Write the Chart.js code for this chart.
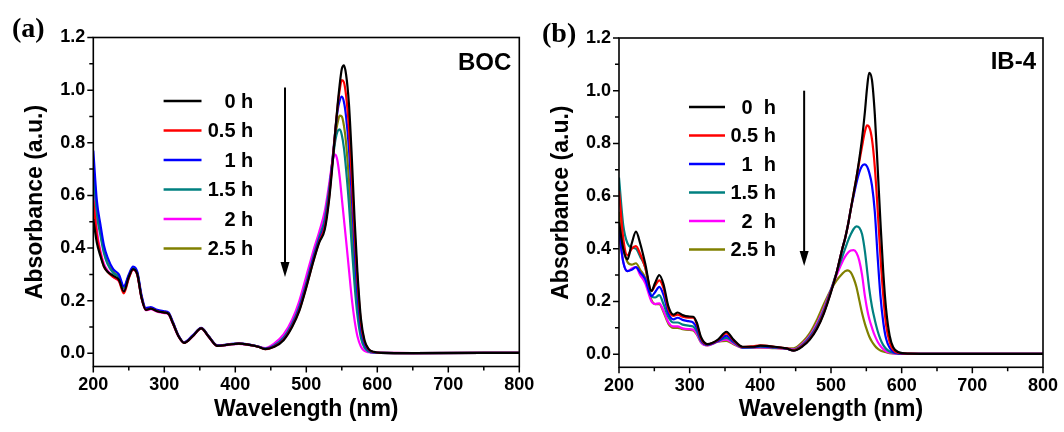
<!DOCTYPE html>
<html><head><meta charset="utf-8">
<script src="https://cdn.jsdelivr.net/npm/chart.js@4.4.0/dist/chart.umd.min.js"></script>
<style>
html,body{margin:0;padding:0;background:#fff;}
#wrap{position:relative;width:1064px;height:432px;overflow:hidden;background:#fff;}
#ca{position:absolute;left:0;top:0;}
#cb{position:absolute;left:532px;top:0;}
</style></head><body>
<div id="wrap"><canvas id="ca" width="570" height="432"></canvas><canvas id="cb" width="532" height="432"></canvas></div>
<script>
// ---------- DATA ----------
const X_TICKS = [200, 300, 400, 500, 600, 700, 800];
const X_MINOR = [250, 350, 450, 550, 650, 750];
const Y_TICKS = [0.0, 0.2, 0.4, 0.6, 0.8, 1.0, 1.2];
const Y_MINOR = [0.1, 0.3, 0.5, 0.7, 0.9, 1.1];

const LABELS_A = ['0 h', '0.5 h', '1 h', '1.5 h', '2 h', '2.5 h'];
const LABELS_B = ['0  h', '0.5 h', '1  h', '1.5 h', '2  h', '2.5 h'];

// Panel (a) BOC – wavelength (nm)
const WL_A = [200,205,210,215,220,228,236,243,250,256,
  262,268,274,281,290,300,306,312,320,328,
  340,352,362,375,390,405,420,432,442,455,
  468,480,490,500,510,518,526,532,537,541,
  544,547,550,553,556,560,564,568,572,577,
  582,588,595,605,650,800];
const A_0H = [0.51,0.42,0.37,0.33,0.31,0.295,0.28,0.235,0.29,0.32,
  0.30,0.21,0.165,0.17,0.16,0.155,0.15,0.115,0.065,0.04,
  0.065,0.095,0.065,0.028,0.033,0.037,0.032,0.025,0.016,0.025,
  0.05,0.10,0.16,0.25,0.35,0.42,0.47,0.58,0.72,0.85,
  0.94,1.02,1.08,1.094,1.06,0.95,0.75,0.51,0.31,0.13,
  0.05,0.016,0.006,0.002,0.001,0.002];
const A_05H = [0.58,0.45,0.38,0.33,0.31,0.29,0.275,0.228,0.285,0.318,
  0.298,0.21,0.165,0.17,0.16,0.155,0.15,0.115,0.065,0.04,
  0.065,0.095,0.065,0.028,0.033,0.037,0.032,0.025,0.016,0.026,
  0.052,0.103,0.163,0.253,0.352,0.423,0.48,0.59,0.73,0.85,
  0.935,1.0,1.038,1.03,0.98,0.86,0.67,0.46,0.28,0.115,
  0.045,0.014,0.005,0.002,0.001,0.002];
const A_1H = [0.77,0.58,0.49,0.41,0.365,0.32,0.30,0.255,0.30,0.33,
  0.31,0.22,0.172,0.176,0.165,0.16,0.155,0.12,0.068,0.042,
  0.068,0.097,0.067,0.03,0.034,0.038,0.033,0.026,0.017,0.028,
  0.055,0.107,0.17,0.26,0.36,0.43,0.49,0.60,0.74,0.85,
  0.92,0.96,0.975,0.955,0.90,0.78,0.60,0.40,0.23,0.095,
  0.036,0.012,0.004,0.002,0.001,0.002];
const A_15H = [0.70,0.53,0.45,0.38,0.34,0.305,0.29,0.25,0.295,0.325,
  0.305,0.215,0.168,0.172,0.162,0.157,0.152,0.117,0.066,0.041,
  0.066,0.096,0.066,0.029,0.033,0.037,0.032,0.026,0.018,0.031,
  0.06,0.113,0.178,0.268,0.368,0.44,0.51,0.62,0.73,0.81,
  0.843,0.851,0.83,0.78,0.70,0.57,0.41,0.26,0.145,0.058,
  0.021,0.007,0.003,0.002,0.001,0.002];
const A_2H = [0.66,0.47,0.39,0.34,0.315,0.29,0.275,0.238,0.288,0.318,
  0.298,0.21,0.164,0.168,0.158,0.153,0.148,0.113,0.064,0.04,
  0.064,0.094,0.064,0.028,0.032,0.036,0.031,0.026,0.02,0.038,
  0.072,0.128,0.198,0.293,0.39,0.46,0.54,0.64,0.73,0.755,
  0.73,0.67,0.59,0.51,0.43,0.32,0.21,0.125,0.065,0.025,
  0.009,0.004,0.002,0.002,0.001,0.002];
const A_25H = [0.72,0.55,0.46,0.39,0.345,0.31,0.29,0.248,0.293,0.323,
  0.303,0.213,0.167,0.171,0.161,0.156,0.151,0.116,0.066,0.041,
  0.066,0.096,0.066,0.029,0.033,0.037,0.032,0.026,0.018,0.03,
  0.058,0.11,0.175,0.265,0.365,0.437,0.505,0.615,0.74,0.83,
  0.875,0.903,0.9,0.865,0.80,0.66,0.48,0.31,0.175,0.072,
  0.026,0.008,0.003,0.002,0.001,0.002];

// Panel (b) IB-4 – wavelength (nm)
const WL_B = [200,206,212,218,224,230,237,246,251,257,
  263,270,277,283,290,298,305,310,316,325,
  340,352,362,375,390,400,420,437,447,460,
  470,480,490,500,508,516,520,524,528,532,
  536,540,544,548,551,554,558,562,566,570,
  574,578,583,588,595,610,650,800];
const B_0H = [0.50,0.40,0.36,0.42,0.465,0.42,0.345,0.24,0.27,0.30,
  0.265,0.18,0.15,0.158,0.148,0.143,0.142,0.12,0.065,0.038,
  0.055,0.085,0.055,0.028,0.028,0.032,0.028,0.022,0.013,0.03,
  0.055,0.095,0.155,0.235,0.31,0.40,0.44,0.49,0.55,0.61,
  0.67,0.74,0.82,0.92,1.01,1.068,1.04,0.91,0.71,0.50,
  0.31,0.17,0.07,0.026,0.008,0.002,0.001,0.001];
const B_05H = [0.62,0.44,0.375,0.40,0.41,0.38,0.33,0.24,0.26,0.28,
  0.25,0.17,0.145,0.15,0.142,0.138,0.138,0.115,0.06,0.037,
  0.053,0.08,0.052,0.027,0.03,0.033,0.028,0.022,0.014,0.032,
  0.058,0.098,0.158,0.238,0.31,0.40,0.44,0.49,0.55,0.61,
  0.67,0.73,0.79,0.845,0.868,0.862,0.815,0.71,0.55,0.37,
  0.22,0.11,0.045,0.016,0.005,0.002,0.001,0.001];
const B_1H = [0.47,0.35,0.315,0.32,0.33,0.31,0.285,0.22,0.235,0.255,
  0.225,0.155,0.132,0.138,0.13,0.125,0.12,0.10,0.055,0.036,
  0.05,0.07,0.048,0.026,0.027,0.03,0.026,0.021,0.014,0.033,
  0.06,0.10,0.16,0.24,0.31,0.40,0.44,0.49,0.55,0.60,
  0.65,0.69,0.715,0.72,0.712,0.69,0.64,0.54,0.37,0.22,
  0.12,0.058,0.024,0.009,0.003,0.001,0.001,0.001];
const B_15H = [0.67,0.49,0.42,0.405,0.40,0.37,0.33,0.22,0.215,0.224,
  0.19,0.14,0.12,0.12,0.112,0.108,0.105,0.088,0.05,0.035,
  0.05,0.062,0.045,0.025,0.026,0.028,0.025,0.021,0.016,0.036,
  0.065,0.108,0.168,0.245,0.31,0.37,0.40,0.43,0.455,0.475,
  0.485,0.48,0.455,0.39,0.32,0.25,0.18,0.13,0.088,0.056,
  0.034,0.02,0.01,0.005,0.002,0.001,0.001,0.001];
const B_2H = [0.46,0.35,0.315,0.325,0.33,0.30,0.27,0.20,0.19,0.193,
  0.165,0.12,0.105,0.105,0.098,0.095,0.093,0.078,0.045,0.033,
  0.048,0.055,0.04,0.024,0.025,0.026,0.024,0.021,0.018,0.04,
  0.07,0.115,0.175,0.245,0.30,0.35,0.37,0.385,0.393,0.395,
  0.385,0.355,0.30,0.22,0.172,0.135,0.10,0.07,0.047,0.031,
  0.019,0.011,0.006,0.003,0.002,0.001,0.001,0.001];
const B_25H = [0.54,0.40,0.35,0.34,0.345,0.32,0.29,0.205,0.19,0.19,
  0.16,0.115,0.10,0.10,0.095,0.092,0.09,0.075,0.045,0.033,
  0.047,0.05,0.038,0.024,0.024,0.025,0.023,0.022,0.022,0.047,
  0.08,0.13,0.19,0.245,0.28,0.305,0.315,0.318,0.31,0.288,
  0.255,0.205,0.155,0.115,0.09,0.068,0.047,0.032,0.021,0.014,
  0.01,0.007,0.004,0.003,0.002,0.001,0.001,0.001];

// ---------- STYLE ----------
const FONT = "'Liberation Sans', Arial, sans-serif";
const SERIF = "'Liberation Serif', 'Times New Roman', serif";
const COLORS = ['#000000', '#ff0000', '#0000ff', '#008080', '#ff00ff', '#808000'];
Chart.defaults.font.family = FONT;
Chart.defaults.color = '#000';

function makePanel(id, wl, series, labels, g) {
  const datasets = series.map((vals, i) => ({
    label: labels[i],
    data: wl.map((x, k) => ({ x: x, y: vals[k] })),
    borderColor: COLORS[i], backgroundColor: COLORS[i],
    borderWidth: 2.2, pointRadius: 0, fill: false,
    cubicInterpolationMode: 'monotone'
  }));

  const overlay = {
    id: 'overlay',
    afterDraw(chart) {
      const ctx = chart.ctx, a = chart.chartArea;
      const xs = chart.scales.x, ys = chart.scales.y;
      ctx.save();
      ctx.strokeStyle = '#000'; ctx.fillStyle = '#000';
      ctx.lineWidth = 1.6;
      ctx.strokeRect(a.left, a.top, a.right - a.left, a.bottom - a.top);
      // ticks (outward)
      ctx.lineWidth = 1.5;
      ctx.beginPath();
      X_TICKS.forEach(v => { const p = xs.getPixelForValue(v); ctx.moveTo(p, a.bottom); ctx.lineTo(p, a.bottom + 6); });
      X_MINOR.forEach(v => { const p = xs.getPixelForValue(v); ctx.moveTo(p, a.bottom); ctx.lineTo(p, a.bottom + 4); });
      Y_TICKS.forEach(v => { const p = ys.getPixelForValue(v); ctx.moveTo(a.left, p); ctx.lineTo(a.left - 6, p); });
      Y_MINOR.forEach(v => { const p = ys.getPixelForValue(v); ctx.moveTo(a.left, p); ctx.lineTo(a.left - 4, p); });
      ctx.stroke();
      // legend
      ctx.font = 'bold 20px ' + FONT;
      ctx.textAlign = 'right'; ctx.textBaseline = 'middle';
      chart.data.datasets.forEach((d, i) => {
        const y = a.top + g.leg.y0 + i * g.leg.dy;
        ctx.strokeStyle = d.borderColor; ctx.lineWidth = 2.5;
        ctx.beginPath(); ctx.moveTo(a.left + g.leg.x1, y); ctx.lineTo(a.left + g.leg.x2, y); ctx.stroke();
        ctx.fillStyle = '#000';
        ctx.fillText(d.label, a.left + g.leg.tx, y + 1);
      });
      // arrow
      const ax = xs.getPixelForValue(g.arrow.x);
      const ay0 = ys.getPixelForValue(g.arrow.y0), ay1 = ys.getPixelForValue(g.arrow.y1);
      ctx.strokeStyle = '#000'; ctx.fillStyle = '#000'; ctx.lineWidth = 2;
      ctx.beginPath(); ctx.moveTo(ax, ay0); ctx.lineTo(ax, ay1 - 12); ctx.stroke();
      ctx.beginPath(); ctx.moveTo(ax, ay1); ctx.lineTo(ax - 4.5, ay1 - 15); ctx.lineTo(ax + 4.5, ay1 - 15); ctx.closePath(); ctx.fill();
      // sample name
      ctx.font = 'bold 24px ' + FONT;
      ctx.textAlign = 'right'; ctx.textBaseline = 'alphabetic';
      ctx.fillText(g.name, a.right + g.nameDx, g.nameY);
      // panel label
      ctx.font = 'bold 28px ' + SERIF;
      ctx.textAlign = 'left';
      ctx.fillText(g.panel, g.panelX, g.panelY);
      ctx.restore();
    }
  };

  return new Chart(document.getElementById(id), {
    type: 'line',
    data: { datasets: datasets },
    options: {
      responsive: false, animation: false, devicePixelRatio: 1,
      layout: { padding: { left: 0, right: g.padR, top: g.padT, bottom: 0 } },
      plugins: { legend: { display: false }, tooltip: { enabled: false } },
      scales: {
        x: {
          type: 'linear', min: 200, max: 800,
          afterBuildTicks: s => { s.ticks = X_TICKS.map(v => ({ value: v })); },
          afterFit: s => { s.height = g.xH; s.paddingLeft = 0; s.paddingRight = 0; },
          grid: { display: false, drawTicks: false }, border: { display: false },
          ticks: { color: '#000', font: { family: FONT, size: 18, weight: 'bold' }, padding: 8, maxRotation: 0, autoSkip: false, callback: v => String(v) },
          title: { display: true, text: 'Wavelength (nm)', color: '#000', font: { family: FONT, size: 23, weight: 'bold' }, padding: { top: 0, bottom: 9 } }
        },
        y: {
          type: 'linear', min: -0.05, max: 1.2,
          afterBuildTicks: s => { s.ticks = Y_TICKS.map(v => ({ value: v })); },
          afterFit: s => { s.width = g.yW; s.paddingTop = 0; s.paddingBottom = 0; },
          grid: { display: false, drawTicks: false }, border: { display: false },
          ticks: { color: '#000', font: { family: FONT, size: 18, weight: 'bold' }, padding: 8, autoSkip: false, callback: v => v.toFixed(1) },
          title: { display: true, text: 'Absorbance (a.u.)', color: '#000', font: { family: FONT, size: 23, weight: 'bold' }, padding: { top: g.yTitlePad, bottom: 0 } }
        }
      }
    },
    plugins: [overlay]
  });
}

makePanel('ca', WL_A, [A_0H, A_05H, A_1H, A_15H, A_2H, A_25H], LABELS_A, {
  padR: 570 - 519.3, padT: 37.5, xH: 432 - 366.5, yW: 93.3, yTitlePad: 22,
  leg: { x1: 70.3, x2: 108.2, tx: 160, y0: 63.5, dy: 29.5 },
  arrow: { x: 470, y0: 1.01, y1: 0.29 },
  name: 'BOC', nameDx: -8, nameY: 70,
  panel: '(a)', panelX: 12, panelY: 36.5
});
makePanel('cb', WL_B, [B_0H, B_05H, B_1H, B_15H, B_2H, B_25H], LABELS_B, {
  padR: 532 - 511, padT: 38, xH: 432 - 367.3, yW: 87, yTitlePad: 16,
  leg: { x1: 70, x2: 106, tx: 157, y0: 69, dy: 28.5 },
  arrow: { x: 462, y0: 1.0, y1: 0.335 },
  name: 'IB-4', nameDx: -7, nameY: 68.5,
  panel: '(b)', panelX: 10, panelY: 41.5
});
</script>
</body></html>
